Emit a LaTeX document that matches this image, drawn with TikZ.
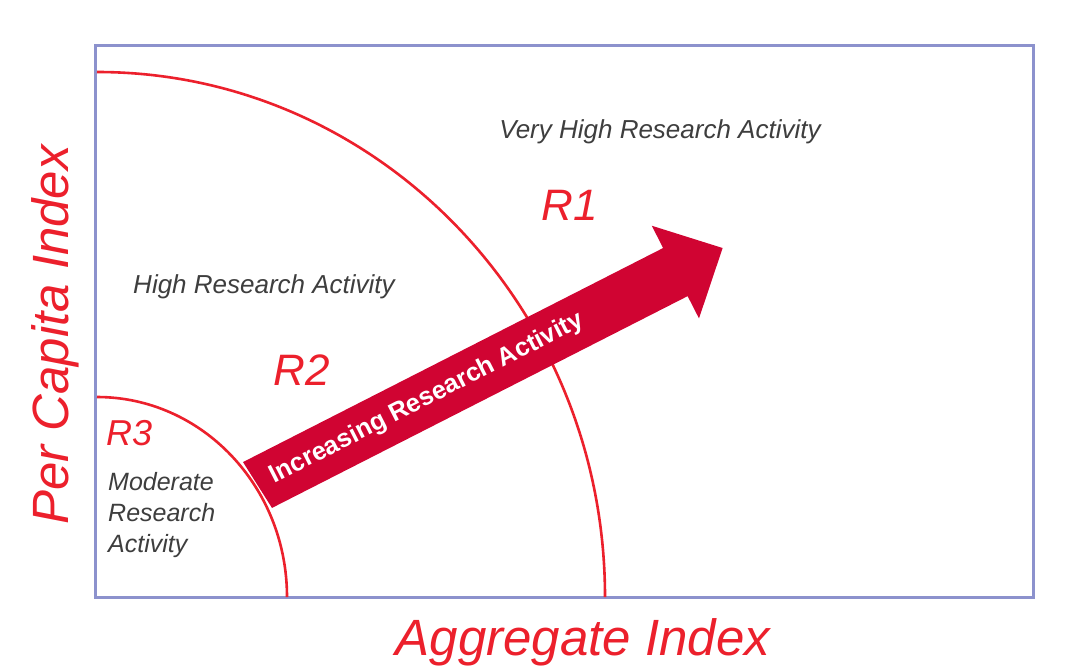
\documentclass[tikz,border=0pt]{standalone}
\usepackage{fontspec}
\setmainfont{Liberation Sans}
\definecolor{boxblue}{RGB}{140,146,205}
\definecolor{linered}{RGB}{236,32,44}
\definecolor{arrowred}{RGB}{208,4,50}
\definecolor{labelgray}{RGB}{62,62,62}
\tikzset{
  region/.style={font=\fontsize{26}{31}\selectfont\itshape, text=labelgray, inner sep=0pt},
  rlabel/.style={font=\fontsize{44}{44}\selectfont\itshape, text=linered, inner sep=0pt},
  axislabel/.style={font=\fontsize{51}{51}\selectfont\itshape, text=linered, inner sep=0pt},
  bound/.style={draw=linered, line width=2.6pt},
}
\begin{document}
\begin{tikzpicture}[x=1pt,y=1pt]
\useasboundingbox[fill=white] (0,0) rectangle (1079,-670);
% frame
\draw[boxblue, line width=3pt] (95,-45) rectangle (1033,-597);
% region boundaries
\draw[bound] (97,-72) arc[start angle=90, end angle=0, x radius=508, y radius=525];
\draw[bound] (97,-397) arc[start angle=90, end angle=0, x radius=190, y radius=200];
% big arrow
\begin{scope}[shift={(257.5,-485)}, rotate=27]
  \fill[arrowred] (-2.5,27) -- (469,27) -- (469,52) -- (522,0) -- (469,-52) -- (469,-27) -- (2.5,-27) -- cycle;
  \node[font=\fontsize{25.5}{25.5}\selectfont\bfseries, text=white, inner sep=0pt, rotate=27] (arrowtext) at (190,0) {Increasing Research Activity};
\end{scope}
% labels
\node[region, anchor=base] (vhigh) at (660,-138) {Very High Research Activity};
\node[region, anchor=base] (high) at (264,-293) {High Research Activity};
\node[region, anchor=base west, align=left, font=\fontsize{25}{31}\selectfont\itshape] (moderate) at (108,-552) {Moderate\\Research\\Activity};
\node[rlabel, anchor=base] (r1) at (570,-220) {R1};
\node[rlabel, anchor=base] (r2) at (302,-385) {R2};
\node[rlabel, anchor=base west, font=\fontsize{36}{36}\selectfont\itshape] (r3) at (106,-445) {R3};
\node[axislabel, anchor=base] (xaxis) at (583,-655) {Aggregate Index};
\node[axislabel, anchor=base, rotate=90] (yaxis) at (68,-335) {Per Capita Index};
\end{tikzpicture}
\end{document}
